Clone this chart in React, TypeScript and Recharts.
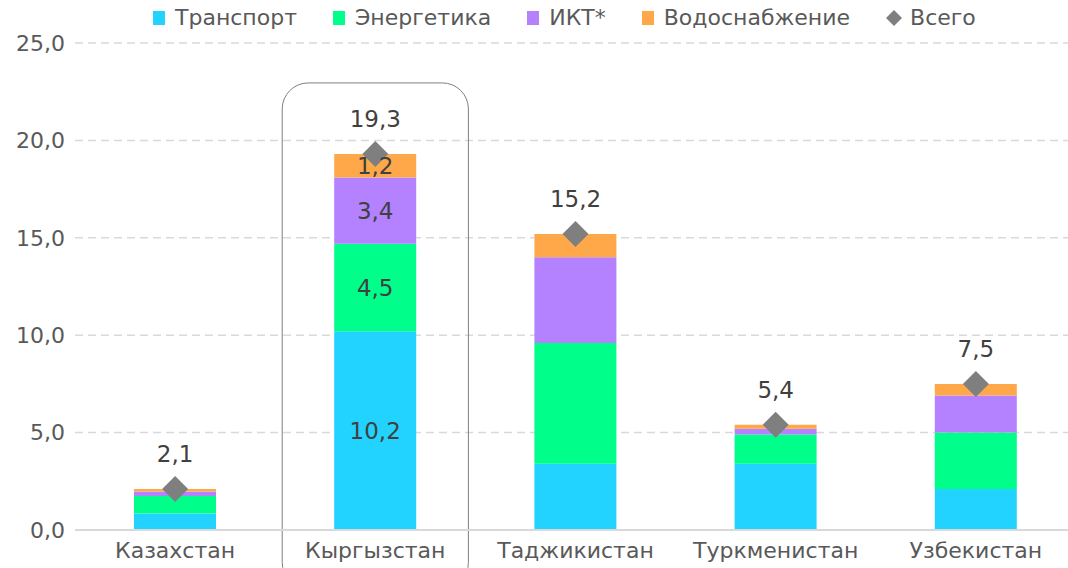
import {
  Bar,
  CartesianGrid,
  ComposedChart,
  LabelList,
  Line,
  ReferenceArea,
  XAxis,
  YAxis
} from "recharts";

const countries = ["Казахстан", "Кыргызстан", "Таджикистан", "Туркменистан", "Узбекистан"];
const transport = [0.85, 10.2, 3.4, 3.4, 2.1];
const energy = [0.9, 4.5, 6.2, 1.5, 2.9];
const ict = [0.22, 3.4, 4.4, 0.3, 1.9];
const water = [0.13, 1.2, 1.2, 0.2, 0.6];
const total = [2.1, 19.3, 15.2, 5.4, 7.5];
const yTicks = [0, 5, 10, 15, 20, 25];

// only the highlighted country shows segment values
const highlighted = "Кыргызстан";

const series = [
  { key: "transport", name: "Транспорт", color: "#22d3ff", values: transport },
  { key: "energy", name: "Энергетика", color: "#00fe8a", values: energy },
  { key: "ict", name: "ИКТ*", color: "#b481ff", values: ict },
  { key: "water", name: "Водоснабжение", color: "#ffa84a", values: water }
];

const data = countries.map((country, i) => {
  const row: Record<string, string | number> = { country, total: total[i] };
  for (const s of series) row[s.key] = s.values[i];
  return row;
});

const font = "'DejaVu Sans', Verdana, sans-serif";
const textColor = "#595959";

function fmt(value: unknown) {
  return typeof value === "number" ? value.toFixed(1).replace(".", ",") : String(value ?? "");
}

function Diamond(props: any) {
  const { cx, cy } = props;
  if (cx == null || cy == null) return null;
  const r = 13;
  return (
    <path
      d={`M${cx},${cy - r}L${cx + r},${cy}L${cx},${cy + r}L${cx - r},${cy}Z`}
      fill="#7f7f7f"
      key={`d-${cx}`}
    />
  );
}

function segmentLabel(props: any) {
  const { x, y, width, height, value, index } = props;
  if (countries[index] !== highlighted) return null;
  return (
    <text
      x={x + width / 2}
      y={y + height / 2}
      dy="0.36em"
      textAnchor="middle"
      fill="#404040"
      fontSize={23}
      fontFamily={font}
    >
      {fmt(value)}
    </text>
  );
}

function HighlightBox(props: any) {
  const { x, y, width, height } = props;
  const inset = 7;
  return (
    <rect
      x={x + inset}
      y={y}
      width={width - inset * 2}
      height={height}
      rx={26}
      ry={26}
      fill="none"
      stroke="#7f7f7f"
      strokeWidth={1}
    />
  );
}

function LegendRow() {
  return (
    <div
      style={{
        position: "absolute",
        top: 5,
        left: 153,
        display: "flex",
        alignItems: "center",
        gap: 36,
        fontFamily: font,
        fontSize: 22,
        color: textColor,
        whiteSpace: "nowrap"
      }}
    >
      {series.map((s) => (
        <div key={s.key} style={{ display: "flex", alignItems: "center", gap: 10 }}>
          <span style={{ width: 12, height: 14, background: s.color, display: "inline-block" }} />
          <span>{s.name}</span>
        </div>
      ))}
      <div style={{ display: "flex", alignItems: "center", gap: 8 }}>
        <svg width={16} height={16}>
          <path d="M8,0L16,8L8,16L0,8Z" fill="#7f7f7f" />
        </svg>
        <span>Всего</span>
      </div>
    </div>
  );
}

export default function App() {
  return (
    <div
      style={{
        position: "absolute",
        left: 0,
        top: 0,
        width: 1068,
        height: 568,
        overflow: "hidden",
        background: "#fff"
      }}
    >
      <ComposedChart
        width={1076}
        height={568}
        data={data}
        margin={{ top: 43, right: 0, bottom: 0, left: 0 }}
        barCategoryGap={0}
      >
        <CartesianGrid stroke="#d9d9d9" strokeDasharray="8 5" vertical={false} strokeWidth={1.5} />
        <XAxis
          dataKey="country"
          height={38}
          axisLine={{ stroke: "#d9d9d9", strokeWidth: 2 }}
          tickLine={false}
          tick={{ fill: textColor, fontSize: 22, fontFamily: font }}
          tickMargin={6}
        />
        <YAxis
          width={75}
          domain={[0, 25]}
          ticks={yTicks}
          axisLine={false}
          tickLine={false}
          tickFormatter={fmt}
          tick={{ fill: textColor, fontSize: 22, fontFamily: font }}
          tickMargin={4}
        />
        <ReferenceArea
          x1={highlighted}
          x2={highlighted}
          y1={-3}
          y2={22.95}
          ifOverflow="visible"
          shape={HighlightBox}
        />
        {series.map((s) => (
          <Bar
            key={s.key}
            dataKey={s.key}
            name={s.name}
            stackId="a"
            fill={s.color}
            barSize={82}
            isAnimationActive={false}
          >
            <LabelList dataKey={s.key} content={segmentLabel} />
          </Bar>
        ))}
        <Line
          dataKey="total"
          name="Всего"
          stroke="none"
          dot={<Diamond />}
          activeDot={false}
          isAnimationActive={false}
        >
          <LabelList
            dataKey="total"
            position="top"
            offset={27}
            formatter={fmt}
            fill="#404040"
            fontSize={23}
            fontFamily={font}
          />
        </Line>
      </ComposedChart>
      <LegendRow />
    </div>
  );
}
